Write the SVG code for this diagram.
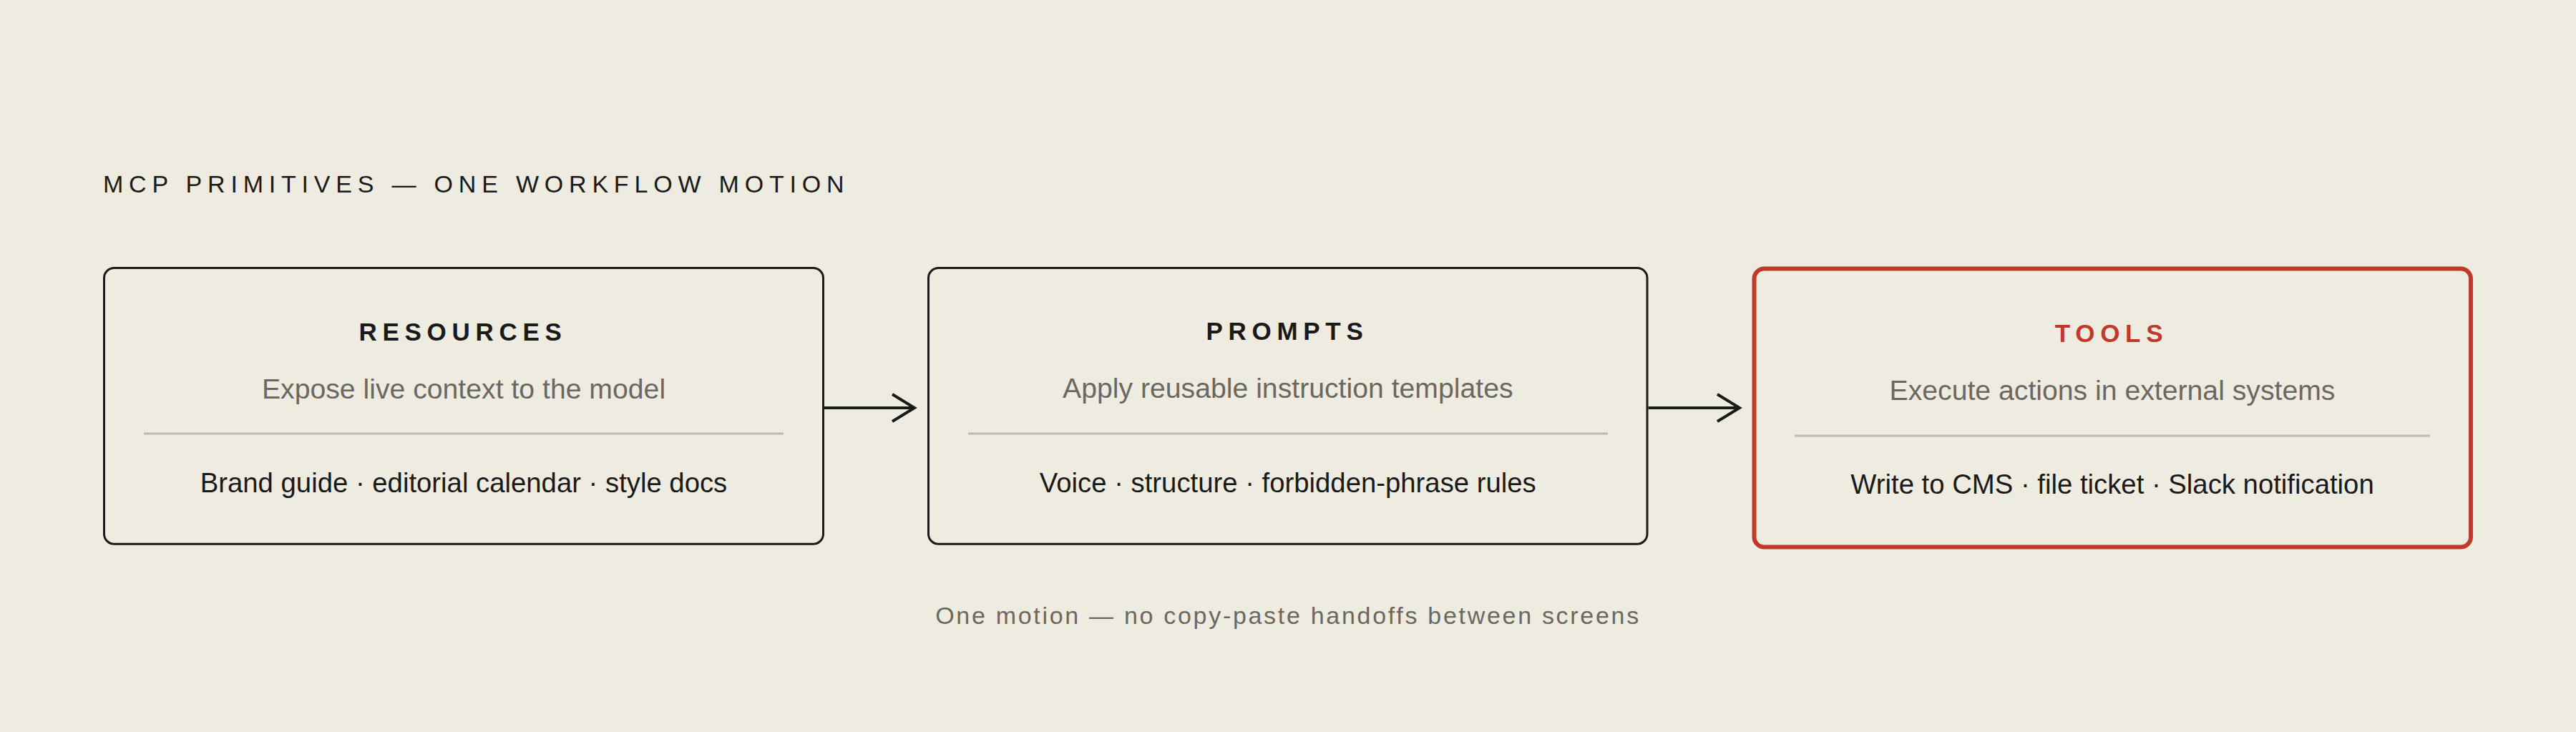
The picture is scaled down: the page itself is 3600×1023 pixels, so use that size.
<svg xmlns="http://www.w3.org/2000/svg" width="3600" height="1023" viewBox="0 0 3600 1023">
  <defs>
    <style>
      .bg { fill: #eeebe0; }
      .box { fill: #eeebe0; stroke: #1a1a1a; stroke-width: 3; }
      .box-accent { fill: #eeebe0; stroke: #c0392b; stroke-width: 6; }
      .title { font-family: "Liberation Sans", Arial, sans-serif; font-size: 34px; letter-spacing: 7.8px; fill: #1a1a1a; }
      .head { font-family: "Liberation Sans", Arial, sans-serif; font-size: 35px; font-weight: bold; letter-spacing: 7.7px; fill: #1a1a1a; text-anchor: middle; }
      .head-accent { fill: #c0392b; }
      .sub { font-family: "Liberation Sans", Arial, sans-serif; font-size: 39.2px; fill: #6b6862; text-anchor: middle; }
      .body { font-family: "Liberation Sans", Arial, sans-serif; font-size: 38.3px; fill: #1a1a1a; text-anchor: middle; }
      .divider { stroke: #bdbab2; stroke-width: 3; }
      .footer { font-family: "Liberation Sans", Arial, sans-serif; font-size: 34px; letter-spacing: 2.7px; fill: #6b6862; text-anchor: middle; }
      .conn { stroke: #1a1a1a; stroke-width: 4; fill: none; }
    </style>
    <marker id="chev" viewBox="0 0 40 46" refX="35" refY="23" markerWidth="40" markerHeight="46" markerUnits="userSpaceOnUse" orient="auto">
      <path d="M4 4 L35 23 L4 42" fill="none" stroke="#1a1a1a" stroke-width="4"/>
    </marker>
  </defs>

  <rect class="bg" x="0" y="0" width="3600" height="1023"/>

  <text id="title" class="title" x="144" y="269">MCP PRIMITIVES — ONE WORKFLOW MOTION</text>

  <g id="resources">
    <rect class="box" x="145.5" y="374.5" width="1005" height="385.7" rx="14"/>
    <text class="head" x="647" y="475.5">RESOURCES</text>
    <text class="sub" x="648" y="556.5">Expose live context to the model</text>
    <line class="divider" x1="201" y1="606" x2="1095" y2="606"/>
    <text class="body" x="648" y="688">Brand guide · editorial calendar · style docs</text>
  </g>

  <g id="prompts">
    <rect class="box" x="1297.5" y="374.5" width="1004.5" height="385.7" rx="14"/>
    <text class="head" x="1799" y="475">PROMPTS</text>
    <text class="sub" x="1799.8" y="555.5">Apply reusable instruction templates</text>
    <line class="divider" x1="1353" y1="606" x2="2247" y2="606"/>
    <text class="body" x="1799.8" y="687.5">Voice · structure · forbidden-phrase rules</text>
  </g>

  <g id="tools">
    <rect class="box-accent" x="2451.5" y="375.5" width="1001.5" height="389" rx="14"/>
    <text class="head head-accent" x="2951" y="478">TOOLS</text>
    <text class="sub" x="2952" y="559">Execute actions in external systems</text>
    <line class="divider" x1="2508" y1="609" x2="3396" y2="609"/>
    <text class="body" x="2952" y="690">Write to CMS · file ticket · Slack notification</text>
  </g>

  <g id="connectors">
    <line class="conn" x1="1151.5" y1="570" x2="1278" y2="570" marker-end="url(#chev)"/>
    <line class="conn" x1="2303.5" y1="570" x2="2431" y2="570" marker-end="url(#chev)"/>
  </g>

  <text id="footer" class="footer" x="1800" y="872">One motion — no copy-paste handoffs between screens</text>
</svg>
